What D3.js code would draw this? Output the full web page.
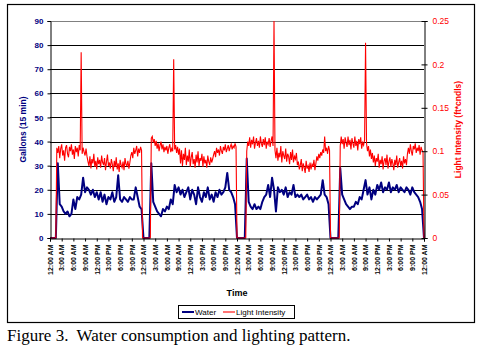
<!DOCTYPE html>
<html>
<head>
<meta charset="utf-8">
<script src="https://cdn.jsdelivr.net/npm/d3@7"></script>
<style>
  body { margin: 0; background: #fff; }
  svg { display: block; font-family: Arial, "Liberation Sans", sans-serif; }
</style>
</head>
<body>
<div id="chart"></div>
<script>
// water read every 30 min, one array per day (12:00 AM .. 11:30 PM)
const waterStepHours = 0.5
const waterDay1 = [0,0,0,0,31,14,13,11,10,11,9,10,16,12,17,16,18,25,19,21,20,18,20,17,19,16,19,15,18,14,17,16,19,15,17,26,16,15,17,16,15,17,16,16,21,17,13,12]
const waterDay2 = [0,0,0,0,31,15,13,11,10,9,12,11,13,12,16,14,22,19,21,18,20,17,19,21,16,20,18,14,21,17,15,19,17,21,16,18,15,19,17,20,18,19,21,27,20,19,17,14]
const waterDay3 = [0,0,0,0,0,33,15,13,12,14,12,13,12,15,17,18,22,17,25,20,11,21,19,20,18,21,17,19,18,22,17,18,17,18,16,17,18,16,17,15,17,16,17,18,24,18,17,14]
const waterDay4 = [0,0,0,0,0,29,18,16,14,13,12,13,13,15,14,17,16,20,24,18,21,16,20,18,22,20,23,19,21,20,23,19,21,20,22,19,21,20,19,21,20,18,21,19,18,17,15,12]
const waterEnd = [0]

// light read every 15 min (12:00 AM .. 11:45 PM)
const lightStepHours = 0.25
const lightDay1 = [0,0,0,0,0,0,0,0.104,
  0.098,0.106,0.092,0.103,0.108,0.095,0.101,0.089,0.104,0.107,0.097,0.093,0.105,0.100,0.108,0.096,0.102,0.091,0.106,0.099,0.104,0.094,0.107,0.101,
  0.214,0.097,0.104,0.099,0.095,0.103,0.094,
  0.088,0.083,0.094,0.080,0.091,0.086,0.097,0.082,0.089,0.079,0.093,0.085,0.090,0.081,0.095,0.087,0.084,0.092,0.078,0.088,0.096,0.083,0.087,0.080,0.091,0.085,0.077,0.089,0.082,0.093,0.079,0.086,0.076,0.090,0.084,0.081,0.088,0.078,0.092,0.085,0.083,0.089,0.080,0.087,
  0.095,0.099,0.092,0.104,0.097,0.101,0.106,0.094,0.103,0.098,0.105,0.101,0]
const lightDay2 = [0,0,0,0,0,0,0,0,
  0.115,0.117,0.110,0.114,0.106,0.112,0.103,0.109,0.100,0.107,0.111,0.102,0.108,0.099,0.105,
  0.101,0.106,0.097,0.104,0.108,0.099,0.103,0.100,
  0.206,0.102,0.107,0.098,0.105,0.096,0.103,
  0.086,0.101,0.083,0.097,0.090,0.104,0.084,0.095,0.088,0.102,0.082,0.093,0.099,0.085,0.091,0.081,0.096,0.087,0.100,0.083,0.092,0.089,0.097,0.082,0.094,0.086,0.090,0.081,0.095,0.088,0.084,0.093,0.087,0.091,
  0.096,0.100,0.093,0.104,0.098,0.102,0.095,0.106,0.100,0.097,0.105,0.101,0.108,0.099,0.103,0.107,0.100,0.105,0.108,0.102,0.106,0.104,0.109,0.105]
const lightDay3 = [0,0,0,0,0,0,0,0,0,0,
  0.100,0.111,0.106,0.116,0.104,0.113,0.108,0.117,0.103,0.110,0.115,0.106,0.112,0.104,0.117,0.109,0.105,0.114,0.107,0.116,0.103,0.111,0.108,0.115,0.105,0.112,0.117,0.106,
  0.250,
  0.101,0.092,0.104,0.089,0.098,0.093,0.106,0.087,0.100,0.095,0.091,0.103,0.088,0.097,0.094,0.085,0.099,0.090,0.102,0.087,0.094,0.091,0.098,0.084,
  0.088,0.079,0.084,0.091,0.077,0.086,0.081,0.075,0.089,0.080,0.083,0.076,0.087,0.079,0.085,0.082,0.090,0.078,
  0.086,0.094,0.089,0.097,0.092,0.099,0.095,0.102,0.098,0.117,0.100,0.104,0.097,0.106,0.101]
const lightDay4 = [0,0,0,0,0,0,0,0,0,0,
  0.106,0.117,0.108,0.114,0.103,0.116,0.110,0.105,0.117,0.107,0.113,0.102,0.115,0.109,0.104,0.117,0.106,0.112,0.101,0.114,0.108,0.116,0.103,0.110,0.107,0.113,
  0.225,
  0.109,0.100,0.106,0.094,0.102,0.091,0.098,
  0.087,0.095,0.083,0.092,0.088,0.097,0.081,0.090,0.085,0.094,0.079,0.089,0.092,0.084,0.096,0.080,0.088,0.093,0.082,0.091,0.086,0.078,0.090,0.084,0.095,0.081,0.087,0.092,0.083,0.089,0.080,0.094,0.086,0.091,0.084,0.097,
  0.104,0.097,0.108,0.100,0.095,0.106,0.102,0.109,0.098,0.104,0.100,0.107,0.096,0.105,0.101,0.099]
const lightEnd = [0]

const timeLabels = ["12:00 AM","3:00 AM","6:00 AM","9:00 AM","12:00 PM","3:00 PM","6:00 PM","9:00 PM"]
const gallonTicks = [0,10,20,30,40,50,60,70,80,90]
const lightTicks = [0,0.05,0.1,0.15,0.2,0.25]

const water = [...waterDay1, ...waterDay2, ...waterDay3, ...waterDay4, ...waterEnd]
const light = [...lightDay1, ...lightDay2, ...lightDay3, ...lightDay4, ...lightEnd]

const W = 479, H = 351
const plot = { left: 50, right: 424, top: 21, bottom: 238 }

const x = d3.scaleLinear().domain([0, 96]).range([plot.left, plot.right])
const yL = d3.scaleLinear().domain([0, 90]).range([plot.bottom, plot.top])
const yR = d3.scaleLinear().domain([0, 0.25]).range([plot.bottom, plot.top])

const svg = d3.select('#chart').append('svg')
    .attr('width', W)
    .attr('height', H)

// outer chart frame
svg.append('rect')
    .attr('x', 7.5).attr('y', 4.5)
    .attr('width', 467).attr('height', 318)
    .attr('fill', 'none').attr('stroke', '#000').attr('stroke-width', 1.2)

// gridlines
svg.append('g')
    .selectAll('line')
    .data(gallonTicks.filter(d => d > 0))
    .join('line')
    .attr('x1', plot.left).attr('x2', plot.right)
    .attr('y1', d => Math.round(yL(d)) + 0.5)
    .attr('y2', d => Math.round(yL(d)) + 0.5)
    .attr('stroke', d => d === 90 ? '#808080' : '#000')
    .attr('stroke-width', 1)

const lineW = d3.line().x((d, i) => x(i * waterStepHours)).y(d => yL(d))
const lineL = d3.line().x((d, i) => x(i * lightStepHours)).y(d => yR(d))

// water
svg.append('path')
    .datum(water)
    .attr('d', lineW)
    .attr('fill', 'none')
    .attr('stroke', '#000080')
    .attr('stroke-width', 2)
    .attr('stroke-linejoin', 'round')

// light intensity
svg.append('path')
    .datum(light)
    .attr('d', lineL)
    .attr('fill', 'none')
    .attr('stroke', '#ff0000')
    .attr('stroke-width', 1.1)

// left axis
const axL = svg.append('g')
    .attr('transform', `translate(${plot.left + 0.5},0)`)
    .call(d3.axisLeft(yL).tickValues(gallonTicks).tickSize(3).tickPadding(4).tickFormat(d3.format('d')))
axL.selectAll('text')
    .attr('fill', '#000080').attr('font-size', 8).attr('font-weight', 'bold')
    .attr('font-family', 'Arial, "Liberation Sans", sans-serif')

// right axis (ticks cross the line)
const axR = svg.append('g')
    .attr('transform', `translate(${plot.right + 0.5},0)`)
    .call(d3.axisRight(yR).tickValues(lightTicks).tickSize(3).tickPadding(5).tickFormat(d => d3.format('~g')(d)))
axR.selectAll('.tick line').attr('x1', -3)
axR.selectAll('text')
    .attr('fill', '#ff0000').attr('font-size', 8.5)
    .attr('font-family', 'Arial, "Liberation Sans", sans-serif')

// bottom time axis
const axB = svg.append('g')
    .attr('transform', `translate(0,${plot.bottom + 0.5})`)
    .call(d3.axisBottom(x).tickValues(d3.range(0, 97, 3)).tickSize(3)
        .tickFormat(h => timeLabels[(h / 3) % 8]))
axB.selectAll('text')
    .attr('transform', 'rotate(-90)')
    .attr('text-anchor', 'end')
    .attr('x', -6).attr('y', 0).attr('dy', '0.32em')
    .attr('fill', '#000').attr('font-size', 7).attr('font-weight', 'bold')
    .attr('font-family', 'Arial, "Liberation Sans", sans-serif')

svg.selectAll('.domain, .tick line').attr('stroke', '#000')

// axis titles
svg.append('text')
    .attr('transform', `translate(26,${(plot.top + plot.bottom) / 2}) rotate(-90)`)
    .attr('text-anchor', 'middle')
    .attr('fill', '#000080').attr('font-size', 8.5).attr('font-weight', 'bold')
    .text('Gallons (15 min)')

svg.append('text')
    .attr('transform', `translate(461,${(plot.top + plot.bottom) / 2}) rotate(-90)`)
    .attr('text-anchor', 'middle')
    .attr('fill', '#ff0000').attr('font-size', 8.5).attr('font-weight', 'bold')
    .text('Light Intensity (ft*cndls)')

svg.append('text')
    .attr('x', 237).attr('y', 296)
    .attr('text-anchor', 'middle')
    .attr('font-size', 9).attr('font-weight', 'bold')
    .text('Time')

// legend
const legend = svg.append('g')
legend.append('rect')
    .attr('x', 178.5).attr('y', 305.5).attr('width', 116).attr('height', 13)
    .attr('fill', '#fff').attr('stroke', '#000').attr('stroke-width', 1)
const legendItems = [
    { label: 'Water', color: '#000080', width: 2, x: 182 },
    { label: 'Light Intensity', color: '#ff0000', width: 1.1, x: 223 },
]
legendItems.forEach(d => {
    legend.append('line')
        .attr('x1', d.x).attr('x2', d.x + 12)
        .attr('y1', 312).attr('y2', 312)
        .attr('stroke', d.color).attr('stroke-width', d.width)
    legend.append('text')
        .attr('x', d.x + 13).attr('y', 315)
        .attr('font-size', 8)
        .text(d.label)
})

// caption
svg.append('text')
    .attr('x', 7).attr('y', 341)
    .attr('font-family', '"Times New Roman", "Liberation Serif", serif')
    .attr('font-size', 17)
    .style('white-space', 'pre')
    .text('Figure 3.  Water consumption and lighting pattern.')
</script>
</body>
</html>
